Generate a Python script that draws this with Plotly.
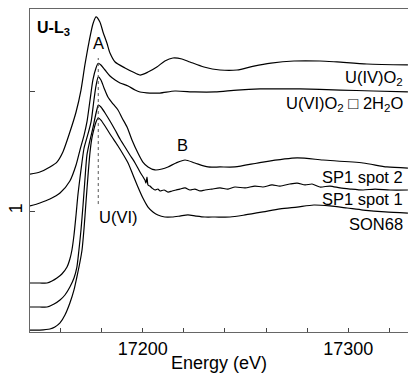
import plotly.graph_objects as go

# ---------------- data (energy in eV, normalised offset absorption) ----------------
e_uiv = [17145.2, 17150.0, 17154.9, 17158.3, 17161.2, 17164.6, 17167.6, 17170.0, 17171.9, 17173.9,
         17175.8, 17177.3, 17179.2, 17180.7, 17182.6, 17184.1, 17186.6, 17191.4, 17195.3, 17198.7,
         17202.6, 17206.9, 17210.8, 17214.7, 17219.1, 17223.0, 17229.8, 17237.6, 17245.9, 17254.1,
         17262.4, 17273.6, 17286.2, 17294.5, 17309.1, 17329.0]
y_uiv = [1.308, 1.325, 1.367, 1.408, 1.492, 1.658, 1.825, 2.008, 2.217, 2.408,
         2.558, 2.617, 2.575, 2.492, 2.400, 2.317, 2.242, 2.192, 2.158, 2.133,
         2.158, 2.200, 2.250, 2.275, 2.267, 2.242, 2.200, 2.175, 2.175, 2.208,
         2.233, 2.250, 2.250, 2.242, 2.225, 2.217]

e_uvi = [17145.2, 17150.0, 17154.9, 17159.8, 17164.6, 17167.6, 17169.5, 17171.5, 17172.9, 17174.4,
         17175.8, 17177.3, 17178.4, 17179.7, 17181.7, 17184.1, 17186.6, 17189.0, 17192.9, 17196.3,
         17198.7, 17203.5, 17208.4, 17215.7, 17225.4, 17235.2, 17245.9, 17257.1, 17276.5, 17296.0,
         17312.1, 17329.0]
y_uvi = [1.042, 1.067, 1.100, 1.150, 1.250, 1.383, 1.508, 1.633, 1.742, 1.925,
         2.092, 2.192, 2.231, 2.217, 2.175, 2.125, 2.092, 2.067, 2.042, 2.008,
         1.992, 1.983, 1.983, 2.000, 1.992, 1.992, 2.008, 2.017, 2.017, 2.008,
         2.000, 1.992]

e_sp2 = [17145.2, 17150.0, 17153.5, 17155.9, 17158.3, 17160.7, 17163.2, 17164.6, 17165.6, 17166.6,
         17167.6, 17168.5, 17169.5, 17170.5, 17171.5, 17173.4, 17174.9, 17176.3, 17177.3, 17178.4,
         17179.7, 17181.2, 17183.1, 17185.6, 17188.0, 17190.0, 17192.4, 17194.8, 17197.7, 17200.1,
         17202.6, 17206.0, 17209.4, 17212.3, 17216.2, 17220.6, 17225.4, 17231.8, 17237.6, 17244.9,
         17258.5, 17275.1, 17287.7, 17307.2, 17318.8, 17329.0]
y_sp2 = [0.400, 0.400, 0.400, 0.417, 0.442, 0.475, 0.533, 0.600, 0.675, 0.800,
         0.967, 1.133, 1.275, 1.408, 1.525, 1.642, 1.742, 1.925, 2.042, 2.117,
         2.092, 2.025, 1.950, 1.892, 1.842, 1.775, 1.700, 1.592, 1.483, 1.408,
         1.367, 1.342, 1.350, 1.367, 1.400, 1.425, 1.400, 1.367, 1.367, 1.367,
         1.408, 1.442, 1.425, 1.400, 1.367, 1.358]

e_sp1 = [17145.2, 17150.0, 17153.5, 17156.9, 17159.8, 17162.2, 17164.6, 17166.6, 17168.0, 17169.0,
         17170.0, 17171.0, 17171.9, 17172.9, 17174.4, 17175.8, 17176.8, 17177.8, 17178.4, 17179.7,
         17181.7, 17184.1, 17186.6, 17189.0, 17191.4, 17193.8, 17196.3, 17198.7, 17201.1, 17201.6,
         17202.1, 17202.6, 17203.5, 17204.5, 17206.0, 17207.4, 17208.4, 17210.4, 17212.3, 17214.3,
         17216.2, 17218.1, 17220.6, 17223.0, 17225.4, 17227.9, 17230.3, 17233.7, 17237.6, 17241.5,
         17244.9, 17249.8, 17254.6, 17258.5, 17262.9, 17266.8, 17271.6, 17275.1, 17279.0, 17282.4,
         17286.2, 17291.1, 17296.0, 17300.9, 17307.2, 17313.0, 17320.3, 17329.0]
y_sp1 = [0.200, 0.200, 0.200, 0.225, 0.258, 0.300, 0.367, 0.442, 0.533, 0.675,
         0.842, 1.050, 1.258, 1.467, 1.592, 1.692, 1.775, 1.850, 1.883, 1.867,
         1.817, 1.750, 1.675, 1.600, 1.533, 1.467, 1.400, 1.325, 1.258, 1.233,
         1.283, 1.217, 1.208, 1.192, 1.175, 1.183, 1.167, 1.175, 1.158, 1.167,
         1.175, 1.183, 1.192, 1.175, 1.183, 1.167, 1.175, 1.183, 1.192, 1.183,
         1.200, 1.192, 1.208, 1.200, 1.217, 1.208, 1.225, 1.233, 1.217, 1.225,
         1.200, 1.208, 1.192, 1.183, 1.175, 1.183, 1.175, 1.175]

e_son = [17145.2, 17150.0, 17154.9, 17157.3, 17159.8, 17162.2, 17164.6, 17166.6, 17168.0, 17169.5,
         17170.5, 17171.5, 17172.4, 17173.4, 17174.4, 17175.3, 17176.3, 17177.3, 17178.4, 17179.7,
         17181.7, 17184.1, 17188.0, 17190.4, 17192.9, 17195.3, 17197.7, 17200.1, 17202.6, 17205.0,
         17207.4, 17210.8, 17214.3, 17218.1, 17222.0, 17225.9, 17230.3, 17235.2, 17242.5, 17249.8,
         17258.5, 17266.8, 17275.1, 17283.3, 17291.1, 17299.4, 17307.2, 17317.9, 17329.0]
y_son = [0.008, 0.008, 0.017, 0.033, 0.067, 0.133, 0.233, 0.342, 0.450, 0.575,
         0.675, 0.858, 1.067, 1.292, 1.492, 1.608, 1.683, 1.742, 1.775, 1.758,
         1.708, 1.642, 1.542, 1.475, 1.400, 1.300, 1.200, 1.108, 1.033, 0.992,
         0.967, 0.950, 0.950, 0.958, 0.967, 0.958, 0.950, 0.950, 0.950, 0.967,
         0.992, 1.017, 1.033, 1.050, 1.042, 1.025, 1.008, 0.992, 0.983]

series = [
    ("U(IV)O<sub>2</sub>", e_uiv, y_uiv),
    ("U(VI)O<sub>2</sub> \u25a1 2H<sub>2</sub>O", e_uvi, y_uvi),
    ("SP1 spot 2", e_sp2, y_sp2),
    ("SP1 spot 1", e_sp1, y_sp1),
    ("SON68", e_son, y_son),
]
label_y = [2.11, 1.89, 1.283, 1.10, 0.888]

x_ticks = [17200, 17300]
x_ticktext = ["17200", "17300"]
y_ticks = [1, 2]
y_ticktext = ["1", ""]
uvi_edge = 17178.4
uvi_line_y = [1.058, 2.275]

FONT = "Liberation Sans, Arial, sans-serif"

fig = go.Figure()
for name, e, y in series:
    fig.add_trace(go.Scatter(x=e, y=y, mode="lines", name=name,
                             line=dict(color="black", width=1.2, shape="spline", smoothing=0.7),
                             showlegend=False, hoverinfo="skip"))

fig.add_trace(go.Scatter(x=[uvi_edge, uvi_edge], y=uvi_line_y, mode="lines",
                         line=dict(color="#555", width=1, dash="dot"),
                         showlegend=False, hoverinfo="skip"))

annos = []
for (name, e, y), ly in zip(series, label_y):
    annos.append(dict(x=17327.6, y=ly, xref="x", yref="y", text=name, showarrow=False,
                      xanchor="right", yanchor="middle", font=dict(size=16.5, color="black", family=FONT)))
annos += [
    dict(x=17147.6, y=2.52, xref="x", yref="y", text="<b>U-L<sub>3</sub></b>", showarrow=False,
         xanchor="left", yanchor="middle", font=dict(size=16, color="black", family=FONT)),
    dict(x=17178.3, y=2.40, xref="x", yref="y", text="A", showarrow=False,
         xanchor="center", yanchor="middle", font=dict(size=16.5, color="black", family=FONT)),
    dict(x=17219.6, y=1.55, xref="x", yref="y", text="B", showarrow=False,
         xanchor="center", yanchor="middle", font=dict(size=16.5, color="black", family=FONT)),
    dict(x=17178.0, y=0.946, xref="x", yref="y", text="U(VI)", showarrow=False,
         xanchor="left", yanchor="middle", font=dict(size=16.5, color="black", family=FONT)),
]

fig.update_layout(
    width=408, height=373,
    margin=dict(l=30, r=0, t=9, b=41),
    paper_bgcolor="white", plot_bgcolor="white",
    annotations=annos,
    xaxis=dict(range=[17145.2, 17329.05], tickvals=x_ticks, ticktext=x_ticktext, ticks="inside", ticklen=4,
               tickcolor="#444", showline=True, linecolor="#666", linewidth=1, mirror=True,
               showgrid=False, zeroline=False,
               tickfont=dict(size=18, color="black", family=FONT),
               minor=dict(dtick=20, tick0=17200, ticks="inside", ticklen=4, tickcolor="#444", showgrid=False),
               title=dict(text="Energy (eV)", font=dict(size=18, color="black", family=FONT), standoff=0)),
    yaxis=dict(range=[-0.0083, 2.6833], tickvals=y_ticks, ticktext=y_ticktext, ticks="inside",
               ticklen=5, tickcolor="#444", tickangle=-90, showline=True, linecolor="#666", linewidth=1,
               mirror=False, showgrid=False, zeroline=False,
               tickfont=dict(size=18, color="black", family=FONT)),
)

fig.write_html("out.html", config={"displayModeBar": False},
               post_script="document.body.style.margin='0px';document.body.style.overflow='hidden';")
